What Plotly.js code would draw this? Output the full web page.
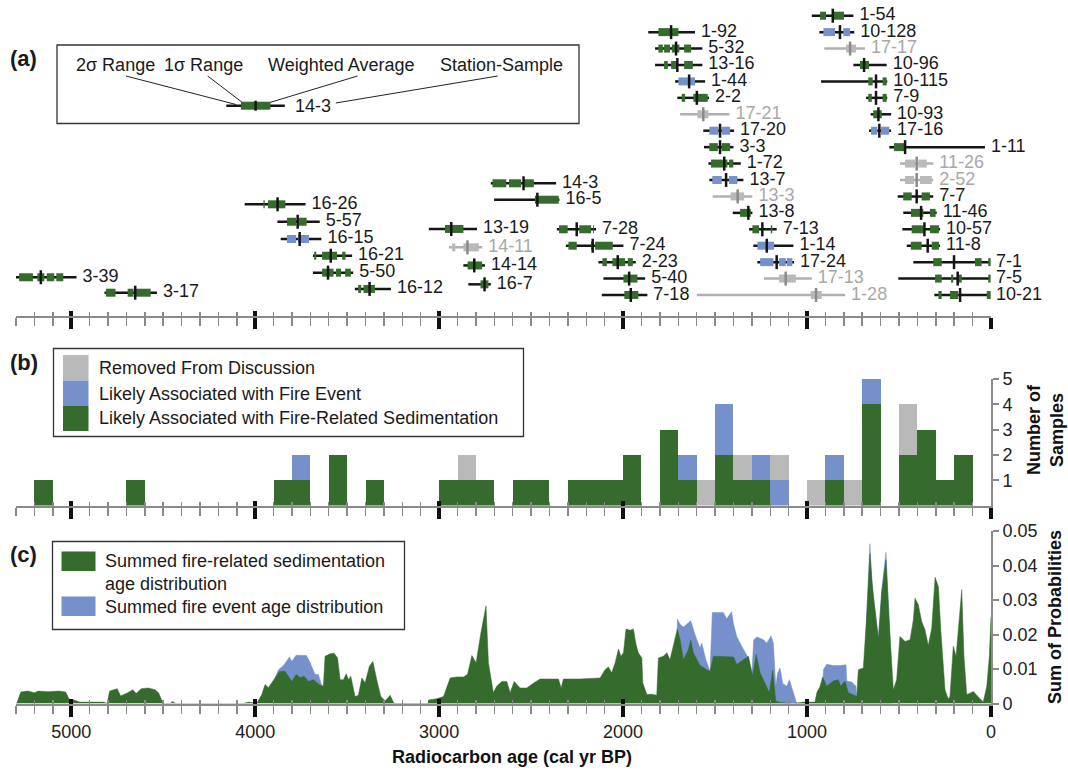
<!DOCTYPE html>
<html><head><meta charset="utf-8">
<script src="https://cdn.plot.ly/plotly-3.0.1.min.js"></script>
<style>html,body{margin:0;padding:0;background:#fff}</style>
</head><body><div id="chart" style="width:1068px;height:772px"></div>
<script>
// ---------- Panel (a): radiocarbon samples ----------
const sampleNames = ['1-54','10-128','17-17','10-96','10-115','7-9','10-93','17-16','1-11','11-26','2-52','7-7','11-46','10-57','11-8','7-1','7-5','10-21',
 '1-92','5-32','13-16','1-44','2-2','17-21','17-20','3-3','1-72','13-7','13-3','13-8','7-13','1-14','17-24','17-13','1-28',
 '14-3','16-5','7-28','7-24','2-23','5-40','7-18',
 '13-19','14-11','14-14','16-7',
 '16-26','5-57','16-15','16-21','5-50','16-12',
 '3-39','3-17'];
const sampleRow = [0,1,2,3,4,5,6,7,8,9,10,11,12,13,14,15,16,17,
 1,2,3,4,5,6,7,8,9,10,11,12,13,14,15,16,17,
 10.2,11.2,13,14,15,16,17,
 12.98,14.1,15.2,16.35,
 11.48,12.54,13.59,14.61,15.64,16.63,
 15.92,16.86];
const sampleGroup = ['sed','evt','rem','sed','sed','sed','sed','evt','sed','rem','rem','sed','sed','sed','sed','sed','sed','sed',
 'sed','sed','sed','evt','sed','rem','evt','sed','sed','evt','rem','sed','sed','evt','evt','rem','rem',
 'sed','sed','sed','sed','sed','sed','sed',
 'sed','rem','sed','sed',
 'sed','sed','evt','sed','sed','sed',
 'sed','sed'];
const twoSigmaOld = [974,933,906,748,924,679,654,663,553,495,495,507,477,482,458,422,504,308,
 1863,1826,1826,1717,1705,1690,1564,1560,1536,1531,1513,1404,1315,1292,1270,1234,1599,
 2719,2701,2360,2311,2134,2107,2116,
 3056,2947,2868,2841,
 4057,3879,3861,3686,3686,3458,
 5311,4819];
const twoSigmaYoung = [748,743,685,567,564,564,543,543,33,314,314,314,295,277,277,5,5,5,
 1609,1569,1569,1554,1533,1422,1397,1400,1360,1346,1297,1297,1165,1074,1071,974,793,
 2364,2346,2147,1998,1931,1880,1868,
 2794,2766,2751,2719,
 3726,3649,3640,3473,3467,3262,
 4971,4534];
const oneSigmaRanges = [
 [[929,897],[857,799]], [[911,848],[803,766]], [[788,734]], [[712,663]], [[667,643],[589,567]],
 [[667,648],[589,567]], [[640,594]], [[652,618],[598,553]], [[527,467]], [[467,413],[395,349]],
 [[467,418],[386,322]], [[477,431],[377,332]], [[435,368],[332,301]], [[431,368],[332,283]],
 [[436,377],[322,283]], [[314,268],[87,51],[15,2]], [[304,268],[217,205],[186,159],[15,2]],
 [[286,268],[223,178],[23,2]],
 [[1808,1699]], [[1808,1784],[1777,1745],[1735,1694],[1668,1630]], [[1777,1757],[1739,1708],[1668,1621]],
 [[1699,1609]], [[1681,1663],[1618,1540]], [[1596,1572],[1567,1536]], [[1531,1482],[1464,1418]],
 [[1531,1485],[1464,1418]], [[1522,1455],[1446,1433],[1424,1401]], [[1515,1464],[1424,1379]],
 [[1415,1342]], [[1364,1306]], [[1297,1261],[1197,1189]], [[1270,1179]],
 [[1255,1183],[1152,1116],[1110,1080]], [[1152,1061]], [[980,920]],
 [[2710,2635],[2620,2554],[2545,2485]], [[2479,2350]], [[2348,2301],[2238,2174],[2163,2158]],
 [[2297,2252],[2174,2167],[2152,2056]], [[2112,2088],[2058,1989],[1974,1947]], [[1998,1922]], [[1993,1917]],
 [[2968,2868]], [[2929,2912],[2868,2784]], [[2845,2766]], [[2775,2732]],
 [[3955,3948],[3930,3836]], [[3827,3777],[3765,3720]], [[3827,3777],[3767,3707]],
 [[3679,3668],[3636,3555],[3527,3509]], [[3636,3574],[3561,3533],[3511,3480]], [[3440,3424],[3411,3349]],
 [[5283,5208],[5184,5146],[5133,5092],[5081,5043]], [[4811,4759],[4693,4661],[4651,4568]]
];
const weightedAvg = [860,821,766,690,625,625,612,607,467,404,404,404,380,362,344,201,181,168,
 1739,1712,1705,1641,1599,1564,1473,1473,1450,1440,1377,1319,1243,1219,1165,1116,951,
 2541,2466,2252,2165,2029,1967,1958,
 2934,2846,2809,2753,
 3878,3769,3758,3589,3604,3378,
 5165,4652];

// ---------- Panel (b): histogram, 100-yr bins ----------
const binStart = [5100,4600,3800,3700,3500,3300,2900,2800,2700,2500,2400,2200,2100,2000,1900,1700,1600,1500,1400,1300,1200,1100,900,800,700,600,400,300,200,100];
const countSed = [1,1,1,1,2,1,1,1,1,1,1,1,1,1,2,3,1,0,2,1,1,0,0,1,0,4,2,3,1,2];
const countEvt = [0,0,0,1,0,0,0,0,0,0,0,0,0,0,0,0,1,0,2,0,1,1,0,1,0,1,0,0,0,0];
const countRem = [0,0,0,0,0,0,0,1,0,0,0,0,0,0,0,0,0,1,0,1,0,1,1,0,1,0,2,0,0,0];

// ---------- Panel (c): summed probability ----------
const ageSed = [5300,5296,5274,5236,5199,5180,5124,5068,5030,5011,4984,4955,4824,4805,4791,4750,4731,4693,4665,4647,4619,4581,4544,4525,4510,4497,4460,4450,4432,
 4064,4036,4010,3991,3964,3946,3928,3910,3891,3868,3837,3819,3801,3777,3755,3734,3710,3683,3650,3629,3620,3592,3571,3552,3538,3520,3505,3492,3480,3457,3439,3420,3402,3379,3360,3339,3317,3293,3266,3245,
 3060,3058,3013,2976,2940,2904,2868,2846,2822,2799,2773,2745,2732,2705,2687,2659,2632,2614,2592,2560,2524,2484,2451,2397,2351,2337,2324,2234,2125,2098,2080,2062,2043,2025,2012,1998,1984,1962,1944,1929,1917,1898,1893,1871,1844,1817,1808,1781,1762,1745,1727,1705,1690,1672,1645,1632,1618,1582,1545,1527,1509,1455,1400,1382,1346,1319,1295,1277,1255,1219,1205,1187,1170,1147,1074,1020,957,947,929,915,893,857,830,817,793,776,730,721,694,676,658,640,612,594,571,553,531,513,495,467,440,422,413,395,377,359,341,322,304,286,273,250,232,223,205,190,178,159,147,132,114,96,69,42,23,9,0];
const probSed = [0,0,0.0033,0.0036,0.0031,0.0036,0.0034,0.0036,0.0033,0.0012,0.001,0.0004,0.0004,0,0.0036,0.0043,0.0022,0.0031,0.004,0.0029,0.0043,0.0045,0.004,0.0031,0.0012,0,0,0.0006,0,
 0,0.0004,0.0001,0,0.0026,0.0055,0.0046,0.006,0.0074,0.0093,0.0093,0.0079,0.0064,0.0084,0.0075,0.0079,0.0064,0.0069,0.0054,0.0051,0.0137,0.0144,0.0146,0.0132,0.0069,0.0069,0.0086,0.0069,0.0079,0.002,0.0024,0.0074,0.006,0.0108,0.0122,0.0069,0.002,0.0008,0.0024,0,
 0,0.001,0.0014,0.002,0.0074,0.0077,0.0077,0.0084,0.0139,0.0118,0.0204,0.0283,0.0118,0.0031,0.005,0.0064,0.0064,0.0031,0.0064,0.0045,0.0045,0.006,0.0071,0.0071,0.0071,0.0045,0.0071,0.0071,0.0074,0.0098,0.0106,0.0089,0.0118,0.0158,0.0137,0.0147,0.0216,0.0212,0.0216,0.017,0.0147,0.0132,0.006,0.0026,0.0027,0.0024,0.0132,0.0137,0.0147,0.0127,0.0166,0.0216,0.0185,0.0127,0.0156,0.0183,0.0147,0.011,0.0098,0.0093,0.0137,0.0137,0.0135,0.0113,0.0127,0.0137,0.0079,0.0142,0.0089,0.005,0.0031,0.0096,0.0007,0.0003,0,0.0004,0.0004,0.0031,0.005,0.0077,0.005,0.0065,0.0069,0.005,0.0065,0.0031,0.0021,0.0098,0.0103,0.0252,0.0435,0.031,0.0185,0.032,0.0416,0.0233,0.004,0.0069,0.0194,0.018,0.0185,0.0243,0.0305,0.0286,0.0238,0.0214,0.0168,0.0219,0.0366,0.0339,0.0214,0.004,0.0012,0.0021,0.0166,0.0137,0.0204,0.033,0.0137,0.0026,0.003,0.0035,0.0019,0.0004,0.005,0.0137,0.0252];
const ageEvt = [3900,3891,3873,3846,3813,3801,3777,3746,3721,3701,3674,3656,3638,3630,
 1712,1705,1690,1672,1650,1632,1609,1582,1572,1550,1527,1515,1509,1455,1437,1410,1400,1382,1355,1337,1319,1300,1290,1272,1237,1219,1196,1183,1170,1160,1147,1132,1110,1096,1074,1056,
 920,911,893,857,820,788,784,757,734,730,
 690,676,658,648,640,612,594,571,553,540];
const probEvt = [0,0.0074,0.0098,0.011,0.0135,0.0122,0.014,0.0139,0.0139,0.0118,0.0084,0.0084,0.0051,0,
 0,0.0245,0.023,0.0222,0.0233,0.024,0.02,0.0161,0.0175,0.0127,0.0093,0.0264,0.0264,0.0264,0.0246,0.0266,0.0232,0.0194,0.0166,0.0147,0.0132,0.0085,0.0185,0.0193,0.0185,0.0175,0.0196,0.0175,0.005,0.0088,0.0103,0.0058,0.005,0.0069,0.0031,0,
 0,0.0098,0.0114,0.011,0.011,0.0112,0.0065,0.0062,0.005,0,
 0,0.0255,0.0463,0.035,0.032,0.019,0.033,0.0438,0.024,0];

// ---------- styling ----------
const FONT = 'Liberation Sans, Arial, Helvetica, sans-serif';
const GREEN = '#356b2d', BLUE = '#7590cb', GRAY = '#b9b9b9';
const style = {
  sed: {box: GREEN, line: '#151515', tick: '#151515', text: '#1a1a1a'},
  evt: {box: BLUE,  line: '#151515', tick: '#151515', text: '#1a1a1a'},
  rem: {box: GRAY,  line: '#b0b0b0', tick: '#8a8a8a', text: '#a8a8a8'}
};
const W = 1068, H = 772, L = 16, R = 991;
const PX = p => (p - L) / (R - L);
const PY = p => (H - p) / H;

const traces = [];
['rem','evt','sed'].forEach(g => {
  const lx = [], ly = [], bx = [], by = [], tx = [], ty = [];
  sampleNames.forEach((n, i) => {
    if (sampleGroup[i] !== g) return;
    lx.push(twoSigmaOld[i], twoSigmaYoung[i], null); ly.push(sampleRow[i], sampleRow[i], null);
    oneSigmaRanges[i].forEach(s => { bx.push(s[0], s[1], null); by.push(sampleRow[i], sampleRow[i], null); });
    tx.push(weightedAvg[i]); ty.push(sampleRow[i]);
  });
  traces.push({type:'scatter', mode:'lines', x:lx, y:ly, xaxis:'x', yaxis:'y', line:{color:style[g].line, width:2.5}, hoverinfo:'skip'});
  traces.push({type:'scatter', mode:'lines', x:bx, y:by, xaxis:'x', yaxis:'y', line:{color:style[g].box, width:8}, hoverinfo:'skip'});
  traces.push({type:'scatter', mode:'markers', x:tx, y:ty, xaxis:'x', yaxis:'y',
    marker:{symbol:'line-ns-open', size:10, color:style[g].tick, line:{color:style[g].tick, width:2.5}}, hoverinfo:'skip'});
});
traces.push({type:'scatter', mode:'markers+text', x:twoSigmaYoung, y:sampleRow, text:sampleNames, xaxis:'x', yaxis:'y',
  textposition:'middle right', cliponaxis:false, marker:{size:8, color:'rgba(0,0,0,0)'},
  textfont:{family:FONT, size:18, color:sampleGroup.map(g => style[g].text)}, hoverinfo:'skip'});

// panel (b)
const binMid = binStart.map(b => b + 50);
const binW = binStart.map(() => 100);
[[countSed, GREEN],[countEvt, BLUE],[countRem, GRAY]].forEach(([c, col]) => {
  traces.push({type:'bar', x:binMid, y:c, width:binW, xaxis:'x2', yaxis:'y2', marker:{color:col, line:{width:0}}, hoverinfo:'skip'});
});

// panel (c)
traces.push({type:'scatter', mode:'lines', x:ageEvt, y:probEvt, xaxis:'x3', yaxis:'y3', fill:'tozeroy',
  fillcolor:BLUE, line:{color:BLUE, width:0.5}, hoverinfo:'skip'});
traces.push({type:'scatter', mode:'lines', x:ageSed, y:probSed, xaxis:'x3', yaxis:'y3', fill:'tozeroy',
  fillcolor:GREEN, line:{color:GREEN, width:0.5}, hoverinfo:'skip'});

// dummy traces for inside-tick overlay axes
[['x4','y'],['x5','y2'],['x6','y3']].forEach(([xa, ya]) => traces.push({type:'scatter', x:[], y:[], xaxis:xa, yaxis:ya, hoverinfo:'skip'}));

const RANGE = [5300, 0];
function xMain(anchor, labels) {
  return {range:RANGE, autorange:false, domain:[0,1], anchor:anchor, showgrid:false, zeroline:false,
    showline:true, linecolor:'#8a8a8a', linewidth:2,
    ticks:'outside', tick0:0, dtick:1000, ticklen:11, tickwidth:3.5, tickcolor:'#111',
    minor:{ticks:'outside', dtick:100, ticklen:8, tickwidth:1.5, tickcolor:'#8a8a8a', showgrid:false},
    showticklabels:labels, tickfont:{family:FONT, size:18, color:'#222'}, fixedrange:true};
}
function xOver(over, anchor) {
  return {range:RANGE, autorange:false, domain:[0,1], overlaying:over, anchor:anchor, showgrid:false, zeroline:false,
    showline:false, ticks:'inside', tick0:0, dtick:1000, ticklen:5, tickwidth:3.5, tickcolor:'#111',
    minor:{ticks:'inside', dtick:100, ticklen:4, tickwidth:1.5, tickcolor:'#8a8a8a', showgrid:false},
    showticklabels:false, fixedrange:true};
}
const rowTop = -15.7/16.43, rowBottom = (316 - 15.7)/16.43;

const shapes = [], ann = [];
const box = (x0,y0,x1,y1,fill,lc,lw) => shapes.push({type:'rect', xref:'paper', yref:'paper', x0:PX(x0), x1:PX(x1), y0:PY(y0), y1:PY(y1),
  fillcolor:fill||'rgba(0,0,0,0)', line:{color:lc||'rgba(0,0,0,0)', width:lw||0}});
const seg = (x0,y0,x1,y1,col,w) => shapes.push({type:'line', xref:'paper', yref:'paper', x0:PX(x0), x1:PX(x1), y0:PY(y0), y1:PY(y1), line:{color:col, width:w}});
const txt = (t,x,y,anchor,size,bold,col,angle) => ann.push({text:bold?'<b>'+t+'</b>':t, xref:'paper', yref:'paper', x:PX(x), y:PY(y),
  xanchor:anchor, yanchor:'middle', showarrow:false, textangle:angle||0, font:{family:FONT, size:size, color:col||'#1a1a1a'}});

// panel letters
txt('(a)', 8, 58, 'left', 22, true);
txt('(b)', 8, 362, 'left', 22, true);
txt('(c)', 8, 554, 'left', 22, true);

// legend (a)
box(57, 45, 579, 123.5, null, '#333', 1.3);
txt('2σ Range', 115, 65, 'center', 18);
txt('1σ Range', 203.5, 65, 'center', 18);
txt('Weighted Average', 341, 65, 'center', 18);
txt('Station-Sample', 501, 65, 'center', 18);
seg(126, 76, 236, 104.5, '#222', 1);
seg(207.7, 76, 246.3, 105.5, '#222', 1);
seg(357.5, 76, 256.6, 106.5, '#222', 1);
seg(497.7, 76, 335.8, 103, '#222', 1);
seg(226.3, 105.7, 284.8, 105.7, '#151515', 2.5);
box(241, 101.7, 270.4, 109.7, GREEN, null, 0);
seg(255.6, 100.7, 255.6, 110.7, '#151515', 2.5);
txt('14-3', 293, 105.5, 'left', 18);

// legend (b)
box(53.5, 348.5, 523.5, 436.5, null, '#333', 1.3);
box(63, 355, 88.5, 380.5, GRAY);
box(63, 380.5, 88.5, 406, BLUE);
box(63, 406, 88.5, 431, GREEN);
txt('Removed From Discussion', 97, 368, 'left', 18);
txt('Likely Associated with Fire Event', 97, 393.5, 'left', 18);
txt('Likely Associated with Fire-Related Sedimentation', 97, 418.5, 'left', 18);

// legend (c)
box(52.5, 541.5, 404.5, 629.5, null, '#333', 1.3);
box(61.5, 551.5, 95.5, 571, GREEN);
box(61.5, 596.5, 95.5, 616, BLUE);
txt('Summed fire-related sedimentation', 103, 561.5, 'left', 18);
txt('age distribution', 103, 583.5, 'left', 18);
txt('Summed fire event age distribution', 103, 606.5, 'left', 18);

// axis titles
txt('Number of<br>Samples', 1045, 430, 'center', 18, true, '#111', -90);
txt('Sum of Probabilities', 1055, 617, 'center', 18, true, '#111', -90);
txt('Radiocarbon age (cal yr BP)', 512, 757, 'center', 18, true, '#111');

const yRight = (dom, rng, vals, anchor) => ({domain:dom, range:rng, autorange:false, anchor:anchor, side:'right',
  showline:true, linecolor:'#8a8a8a', linewidth:2, ticks:'outside', ticklen:6, tickwidth:2, tickcolor:'#8a8a8a',
  tickvals:vals, showgrid:false, zeroline:false, tickfont:{family:FONT, size:18, color:'#222'}, fixedrange:true});

const layout = {
  width:W, height:H, margin:{l:L, r:W-R, t:0, b:0}, paper_bgcolor:'#fff', plot_bgcolor:'rgba(0,0,0,0)',
  showlegend:false, barmode:'stack', bargap:0, font:{family:FONT, size:18, color:'#222'},
  xaxis: xMain('y', false), xaxis2: xMain('y2', false), xaxis3: xMain('y3', true),
  xaxis4: xOver('x', 'y'), xaxis5: xOver('x2', 'y2'), xaxis6: xOver('x3', 'y3'),
  yaxis: {domain:[PY(316), 1], range:[rowBottom, rowTop], autorange:false, visible:false, fixedrange:true},
  yaxis2: yRight([PY(505.5), PY(379)], [0, 5], [1,2,3,4,5], 'x2'),
  yaxis3: yRight([PY(703.5), PY(531)], [0, 0.05], [0,0.01,0.02,0.03,0.04,0.05], 'x3'),
  shapes: shapes, annotations: ann
};
Plotly.newPlot('chart', traces, layout, {staticPlot:true, displayModeBar:false});
</script></body></html>
